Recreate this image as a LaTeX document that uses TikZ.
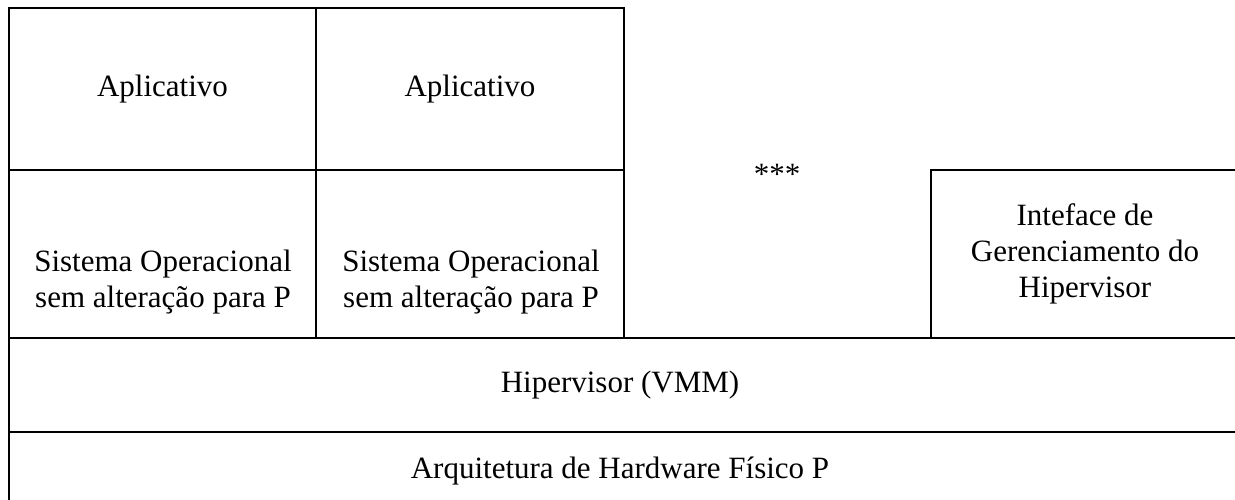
\documentclass[tikz,border=0pt]{standalone}
\usepackage{fontspec}
\setmainfont{Liberation Serif}
\begin{document}
\begin{tikzpicture}[x=1pt,y=-1pt,
  cell/.style={draw, line width=2.5pt, inner sep=0pt, outer sep=0pt, anchor=north west, align=center, font=\fontsize{31}{36}\selectfont},
  lbl/.style={inner sep=0pt, align=center, font=\fontsize{31}{36}\selectfont}]
\useasboundingbox (0,0) rectangle (1235,499);
\clip (0,0) rectangle (1235,499);
% application layer
\node[cell, minimum width=307pt, minimum height=162pt] (app1) at (9,8) {Aplicativo};
\node[cell, minimum width=308pt, minimum height=162pt] (app2) at (316,8) {Aplicativo};
% operating systems
\node[cell, minimum width=307pt, minimum height=168pt] (os1) at (9,170) {};
\node[cell, minimum width=308pt, minimum height=168pt] (os2) at (316,170) {};
\node[lbl] (os1t) at (163,282) {Sistema Operacional\\sem alteração para P};
\node[lbl] (os2t) at (471,282) {Sistema Operacional\\sem alteração para P};
% others
\node[lbl] (stars) at (777,174) {***};
\node[cell, minimum width=308pt, minimum height=168pt] (mgmt) at (931,170) {Inteface de\\Gerenciamento do\\Hipervisor};
% hypervisor and hardware
\node[cell, minimum width=1245pt, minimum height=94pt] (hyp) at (9,338) {};
\node[lbl] (hypt) at (620,385) {Hipervisor (VMM)};
\node[cell, minimum width=1245pt, minimum height=80pt] (hw) at (9,432) {};
\node[lbl] (hwt) at (620,471) {Arquitetura de Hardware Físico P};
\end{tikzpicture}
\end{document}
